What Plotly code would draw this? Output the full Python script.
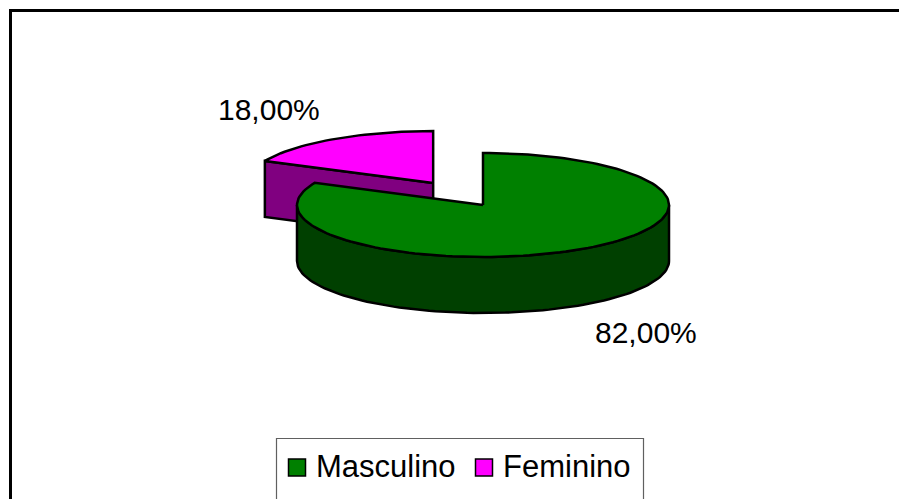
import numpy as np
import plotly.graph_objects as go

# ---- data ----
labels = ["Masculino", "Feminino"]
values = [82.0, 18.0]
top_colors = ["#008000", "#FF00FF"]
side_colors = ["#004000", "#800080"]
explode = [0.0, 0.5]
label_pos = [(646, 332), (269, 109)]

# ---- geometry (pixel space of the 899x499 picture) ----
W, H = 899, 499
CX, CY = 483, 205
A, B = 186, 52
DEPTH = 56
FONT = "Liberation Sans, Arial, sans-serif"
LINE = dict(color="black", width=2.5)

fig = go.Figure()


def rim(theta, ox, oy, dz=0.0):
    t = np.radians(theta)
    return CX + ox + A * np.sin(t), CY + oy - B * np.cos(t) + dz


def arc(t0, t1, ox, oy, dz=0.0):
    ts = np.linspace(t0, t1, max(2, int(abs(t1 - t0) / 2) + 2))
    pts = [rim(t, ox, oy, dz) for t in ts]
    return [p[0] for p in pts], [p[1] for p in pts]


def poly(xs, ys, color):
    fig.add_trace(go.Scatter(x=list(xs) + [xs[0]], y=list(ys) + [ys[0]],
                             mode="lines", fill="toself", fillcolor=color,
                             line=LINE, hoverinfo="skip", showlegend=False))


total = sum(values)
slices = []
start = 0.0
for lab, v, tc, sc, ex in zip(labels, values, top_colors, side_colors, explode):
    end = start + 360.0 * v / total
    mid = (start + end) / 2
    ox = ex * A * np.sin(np.radians(mid))
    oy = -ex * B * np.cos(np.radians(mid))
    slices.append(dict(start=start, end=end, mid=mid, ox=ox, oy=oy, tc=tc, sc=sc))
    start = end

# back to front
slices.sort(key=lambda s: -np.cos(np.radians(s["mid"])))

for s in slices:
    ox, oy = s["ox"], s["oy"]
    ax, ay = CX + ox, CY + oy
    # radial cut faces
    for edge, normal in ((s["start"], s["start"] - 90), (s["end"], s["end"] + 90)):
        if np.cos(np.radians(normal)) < -1e-6:
            rx, ry = rim(edge, ox, oy)
            poly([ax, rx, rx, ax], [ay, ry, ry + DEPTH, ay + DEPTH], s["sc"])
    # outer curved side (front half)
    lo, hi = max(s["start"], 90.0), min(s["end"], 270.0)
    if hi > lo:
        tx, ty = arc(lo, hi, ox, oy)
        bx, by = arc(hi, lo, ox, oy, DEPTH)
        poly(tx + bx, ty + by, s["sc"])
    # top face
    tx, ty = arc(s["start"], s["end"], ox, oy)
    poly([ax] + tx, [ay] + ty, s["tc"])

# data labels
for v, (lx, ly) in zip(values, label_pos):
    fig.add_annotation(x=lx, y=ly, text=f"{v:.2f}".replace(".", ",") + "%",
                       showarrow=False, font=dict(family=FONT, size=30, color="black"),
                       xanchor="center", yanchor="middle")

# legend (manual)
fig.add_shape(type="path", path="M 276.5 505 L 276.5 438.5 L 643.5 438.5 L 643.5 505",
              line=dict(color="#606060", width=1.2), layer="below")
leg_x = [297, 484]
for lab, col, lx in zip(labels, top_colors, leg_x):
    fig.add_trace(go.Scatter(x=[lx], y=[467.5], mode="markers",
                             marker=dict(symbol="square", size=17, color=col,
                                         line=dict(color="black", width=1.5)),
                             hoverinfo="skip", showlegend=False))
    fig.add_annotation(x=lx + 17, y=466, text=lab, showarrow=False,
                       font=dict(family=FONT, size=31, color="black"),
                       xanchor="left", yanchor="middle")

# outer frame: left and top edges only (others lie outside the picture)
fig.add_shape(type="line", x0=10.5, y0=505, x1=10.5, y1=9,
              line=dict(color="black", width=3), layer="below")
fig.add_shape(type="line", x0=9, y0=10.5, x1=905, y1=10.5,
              line=dict(color="black", width=3), layer="below")

fig.update_layout(
    width=W, height=H, margin=dict(l=0, r=0, t=0, b=0),
    paper_bgcolor="white", plot_bgcolor="white",
    xaxis=dict(range=[0, W], visible=False, fixedrange=True),
    yaxis=dict(range=[H, 0], visible=False, fixedrange=True),
    showlegend=False,
)

fig.write_html(
    "out.html",
    config={"displayModeBar": False},
    post_script="document.body.style.margin='0';"
                "document.documentElement.style.overflow='hidden';"
                "document.body.style.overflow='hidden';",
)
